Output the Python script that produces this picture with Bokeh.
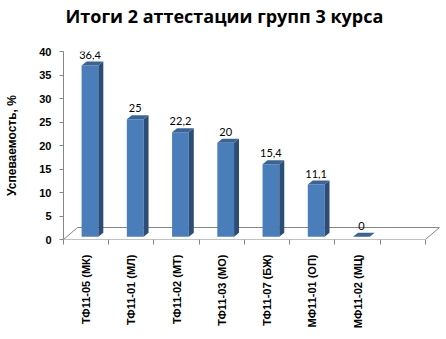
import math
from bokeh.plotting import figure
from bokeh.models import Range1d, FixedTicker, ColumnDataSource, Title
from bokeh.embed import file_html
from bokeh.resources import INLINE
from bokeh.core.properties import value

# ---- data ----
categories = ["ТФ11-05 (МК)", "ТФ11-01 (МЛ)", "ТФ11-02 (МТ)", "ТФ11-03 (МО)",
              "ТФ11-07 (БЖ)", "МФ11-01 (ОП)", "МФ11-02 (МЦ)"]
values = [36.4, 25, 22.2, 20, 15.4, 11.1, 0]
y_ticks = [0, 5, 10, 15, 20, 25, 30, 35, 40]
title_text = "Итоги 2 аттестации групп 3 курса"
y_label = "Успеваемость, %"
n_slots = 8  # category slots on the axis (last one empty)

# ---- 3D styling (in data units) ----
floor_dx, floor_dy = 0.31, 2.55   # floor depth offset
bar_dx, bar_dy = 0.11, 0.85       # bar depth offset
base = 0.6                        # bar front base above floor front edge
f_left, f_right = 0.40, 0.77      # bar front face within slot

FRONT = "#4a7ebb"
SIDE = "#2c4d75"
TOP = "#3b6496"
AXIS = "#868686"

p = figure(width=446, height=339, output_backend="svg", toolbar_location=None,
           x_range=Range1d(0, 8.4), y_range=Range1d(0, 40),
           min_border_left=63, min_border_right=3, min_border_top=51,
           min_border_bottom=100)
p.outline_line_color = None
p.xgrid.visible = False
p.ygrid.visible = False
p.background_fill_color = "white"

# spacer between frame and title (pushes the title to the top of the canvas)
p.add_layout(Title(text=" ", text_font_size="1px", standoff=21), "above")

# title
p.title.text = title_text
p.title.align = "left"
p.title.offset = 2
p.title.vertical_align = "bottom"
p.title.standoff = 0
p.title.text_font = "Open Sans"
p.title.text_font_style = "bold"
p.title.text_font_size = "18px"
p.title.text_color = "black"

# floor
p.patch([0, n_slots, n_slots + floor_dx, floor_dx], [0, 0, floor_dy, floor_dy],
        fill_color=None, line_color=AXIS, line_width=1)

# bars
n = len(values)
xs_front_l = [i + f_left for i in range(n)]
xs_front_r = [i + f_right for i in range(n)]
tops = [v + base for v in values]

side_xs, side_ys, top_xs, top_ys = [], [], [], []
for i in range(n):
    l, r, t = xs_front_l[i], xs_front_r[i], tops[i]
    side_xs.append([r, r + bar_dx, r + bar_dx, r])
    side_ys.append([base, base + bar_dy, t + bar_dy, t])
    top_xs.append([l, r, r + bar_dx, l + bar_dx])
    top_ys.append([t, t, t + bar_dy, t + bar_dy])

p.quad(left=xs_front_l, right=xs_front_r, bottom=[base] * n, top=tops,
       fill_color=FRONT, line_color=None)
p.patches(side_xs, side_ys, fill_color=SIDE, line_color=None)
p.patches(top_xs, top_ys, fill_color=TOP, line_color=None)

# value labels
labels = [("%g" % v).replace(".", ",") for v in values]
src = ColumnDataSource(dict(x=[(a + b) / 2 for a, b in zip(xs_front_l, xs_front_r)],
                            y=[t + bar_dy for t in tops], text=labels))
p.text(x="x", y="y", text="text", source=src, text_align="center",
       text_baseline="bottom", y_offset=-3, text_font=value("Lato"),
       text_font_size="11px", text_color="black")

# y axis
ya = p.yaxis[0]
ya.ticker = FixedTicker(ticks=y_ticks)
ya.axis_line_color = AXIS
ya.major_tick_line_color = AXIS
ya.major_tick_out = 4
ya.major_tick_in = 0
ya.minor_tick_line_color = None
ya.major_label_text_font = "Liberation Sans"
ya.major_label_text_font_style = "bold"
ya.major_label_text_font_size = "11px"
ya.major_label_text_color = "black"
ya.major_label_standoff = 8
ya.axis_label = y_label
ya.axis_label_text_font = "Liberation Sans"
ya.axis_label_text_font_style = "bold"
ya.axis_label_text_font_size = "12px"
ya.axis_label_text_color = "black"
ya.axis_label_standoff = 17

# x axis
xa = p.xaxis[0]
centers = [i + 0.5 for i in range(n)]
xa.ticker = FixedTicker(ticks=centers, minor_ticks=list(range(n_slots + 1)))
xa.major_label_overrides = {c: cat for c, cat in zip(centers, categories)}
xa.axis_line_color = None
xa.major_tick_line_color = None
xa.major_tick_out = 0
xa.major_tick_in = 0
xa.minor_tick_line_color = AXIS
xa.minor_tick_out = 5
xa.minor_tick_in = 0
xa.major_label_orientation = math.pi / 2
xa.major_label_text_font = "Liberation Sans"
xa.major_label_text_font_style = "bold"
xa.major_label_text_font_size = "11px"
xa.major_label_text_color = "black"
xa.major_label_standoff = 10

open("out.html", "w").write(file_html(p, INLINE))
